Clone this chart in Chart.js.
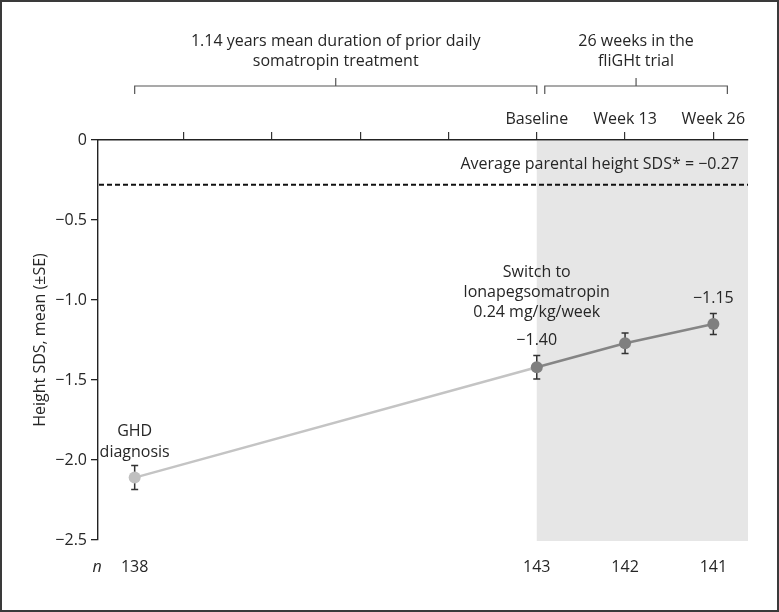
<!DOCTYPE html>
<html>
<head>
<meta charset="utf-8">
<script src="https://cdn.jsdelivr.net/npm/chart.js@4.4.1/dist/chart.umd.min.js"></script>
<style>
  html, body { margin: 0; padding: 0; background: #fff; }
  #wrap { width: 779px; height: 612px; position: relative; }
  canvas { display: block; }
</style>
</head>
<body>
<div id="wrap"><canvas id="c" width="779" height="612"></canvas></div>
<script>
// ---- Data ----
const categories   = ['GHD diagnosis', 'Baseline', 'Week 13', 'Week 26'];
const timeWeeks    = [-59.2, 0, 13, 26];          // x position (weeks relative to baseline)
const heightSDS    = [-2.11, -1.42, -1.27, -1.15]; // mean height SDS
const seValues     = [0.075, 0.073, 0.064, 0.065]; // standard error
const nValues      = [138, 143, 142, 141];
const xTickValues  = [-52, -39, -26, -13, 0, 13, 26];
const xTickLabels  = ['', '', '', '', 'Baseline', 'Week 13', 'Week 26'];
const yTickValues  = [0, -0.5, -1.0, -1.5, -2.0, -2.5];
const parentalSDS  = -0.28;
const parentalText = 'Average parental height SDS* = \u22120.27';
const valueLabels  = ['', '\u22121.40', '', '\u22121.15'];
const periodTexts  = [
  ['1.14 years mean duration of prior daily', 'somatropin treatment'],
  ['26 weeks in the', 'fliGHt trial']
];
const switchText   = ['Switch to', 'lonapegsomatropin', '0.24 mg/kg/week'];
const ghdText      = ['GHD', 'diagnosis'];

const FONT = '"Open Sans", "Noto Sans", sans-serif';
const TXT = '#262626';

const fmtY = v => (v === 0 ? '0' : '\u2212' + Math.abs(v).toFixed(1));

const priorData = [0, 1].map(i => ({ x: timeWeeks[i], y: heightSDS[i] }));
const trialData = [1, 2, 3].map(i => ({ x: timeWeeks[i], y: heightSDS[i] }));

const decorPlugin = {
  id: 'decor',
  beforeDatasetsDraw(chart) {
    const { ctx, chartArea: ca, scales: { x, y } } = chart;
    ctx.save();
    // trial shading
    const xb = x.getPixelForValue(timeWeeks[1]);
    ctx.fillStyle = '#e6e6e6';
    ctx.fillRect(xb, ca.top + 1, ca.right - xb, y.getPixelForValue(-2.5) - ca.top);
    // parental dashed line
    const yp = y.getPixelForValue(parentalSDS);
    ctx.strokeStyle = '#111';
    ctx.lineWidth = 2;
    ctx.setLineDash([5, 3]);
    ctx.beginPath();
    ctx.moveTo(ca.left + 1, yp);
    ctx.lineTo(ca.right, yp);
    ctx.stroke();
    ctx.setLineDash([]);
    // error bars
    ctx.strokeStyle = '#333';
    ctx.lineWidth = 1.5;
    for (let i = 0; i < timeWeeks.length; i++) {
      const px = x.getPixelForValue(timeWeeks[i]);
      const yt = y.getPixelForValue(heightSDS[i] + seValues[i]);
      const yb = y.getPixelForValue(heightSDS[i] - seValues[i]);
      ctx.beginPath();
      ctx.moveTo(px, yt); ctx.lineTo(px, yb);
      ctx.moveTo(px - 3.5, yt); ctx.lineTo(px + 3.5, yt);
      ctx.moveTo(px - 3.5, yb); ctx.lineTo(px + 3.5, yb);
      ctx.stroke();
    }
    ctx.restore();
  },
  afterDraw(chart) {
    const { ctx, chartArea: ca, scales: { x, y } } = chart;
    ctx.save();
    ctx.fillStyle = TXT;
    ctx.textAlign = 'center';
    ctx.textBaseline = 'middle';
    ctx.font = '16px ' + FONT;

    const px = timeWeeks.map(t => x.getPixelForValue(t));
    const py = heightSDS.map(v => y.getPixelForValue(v));
    const pt = heightSDS.map((v, i) => y.getPixelForValue(v + seValues[i]));

    // parental text
    ctx.textAlign = 'right';
    ctx.fillText(parentalText, ca.right - 9, y.getPixelForValue(parentalSDS) - 20);

    // value labels
    ctx.textAlign = 'center';
    valueLabels.forEach((t, i) => { if (t) ctx.fillText(t, px[i], pt[i] - 15); });

    // switch annotation
    switchText.forEach((t, k) => ctx.fillText(t, px[1], py[1] - 95 + k * 20));
    // GHD annotation
    ghdText.forEach((t, k) => ctx.fillText(t, px[0], py[0] - 46 + k * 21));

    // n row
    const ny = ca.bottom + 27;
    nValues.forEach((n, i) => ctx.fillText(String(n), px[i], ny));
    ctx.font = 'italic 16px ' + FONT;
    ctx.fillText('n', ca.left - 1, ny);

    // period brackets
    ctx.strokeStyle = '#555';
    ctx.lineWidth = 1.2;
    const by = 86;
    const brackets = [
      [px[0], px[1]],
      [px[1] + 8, px[3] + 14]
    ];
    ctx.font = '16px ' + FONT;
    brackets.forEach(([a, b], k) => {
      const c = (a + b) / 2;
      ctx.beginPath();
      ctx.moveTo(a, by + 8); ctx.lineTo(a, by); ctx.lineTo(b, by); ctx.lineTo(b, by + 8);
      ctx.moveTo(c, by); ctx.lineTo(c, by - 8);
      ctx.stroke();
      periodTexts[k].forEach((t, j) => ctx.fillText(t, c, 41 + j * 20));
    });

    // outer frame
    ctx.strokeStyle = '#3a3a3a';
    ctx.lineWidth = 2;
    ctx.strokeRect(1, 1, chart.width - 2, chart.height - 2);
    ctx.restore();
  }
};

new Chart(document.getElementById('c'), {
  type: 'line',
  data: {
    datasets: [
      {
        label: 'Prior daily somatropin',
        data: priorData,
        borderColor: '#c4c4c4',
        borderWidth: 2.5,
        pointRadius: [6, 0],
        pointBackgroundColor: '#c0c0c0',
        pointBorderWidth: 0,
        order: 2
      },
      {
        label: 'Lonapegsomatropin',
        data: trialData,
        borderColor: '#858585',
        borderWidth: 2.5,
        pointRadius: 6,
        pointBackgroundColor: '#7f7f7f',
        pointBorderWidth: 0,
        order: 1
      }
    ]
  },
  options: {
    responsive: false,
    animation: false,
    devicePixelRatio: 1,
    layout: { padding: { left: 0, right: 31, top: 0, bottom: 72 } },
    plugins: { legend: { display: false }, tooltip: { enabled: false } },
    scales: {
      x: {
        type: 'linear',
        position: 'top',
        min: -64.6,
        max: 31.1,
        afterBuildTicks: s => { s.ticks = xTickValues.map(v => ({ value: v })); },
        afterFit: s => { s.height = 140; },
        ticks: {
          autoSkip: false,
          maxRotation: 0,
          padding: 3,
          color: TXT,
          font: { family: FONT, size: 16 },
          callback: v => { const i = xTickValues.indexOf(v); return i >= 0 ? xTickLabels[i] : ''; }
        },
        grid: { drawOnChartArea: false, tickLength: 8, color: '#333', lineWidth: 1.2 },
        border: { display: true, color: '#222', width: 1.4 }
      },
      y: {
        type: 'linear',
        position: 'left',
        min: -2.5,
        max: 0,
        afterBuildTicks: s => { s.ticks = yTickValues.map(v => ({ value: v })); },
        afterFit: s => { s.width = 98; },
        ticks: {
          padding: 4,
          color: TXT,
          font: { family: FONT, size: 16 },
          callback: v => fmtY(v)
        },
        title: {
          display: true,
          text: 'Height SDS, mean (\u00B1SE)',
          color: TXT,
          font: { family: FONT, size: 16 },
          padding: { top: 31, bottom: 0 }
        },
        grid: { drawOnChartArea: false, tickLength: 7, color: '#222', lineWidth: 1.3 },
        border: { display: true, color: '#222', width: 1.4 }
      }
    }
  },
  plugins: [decorPlugin]
});
</script>
</body>
</html>
